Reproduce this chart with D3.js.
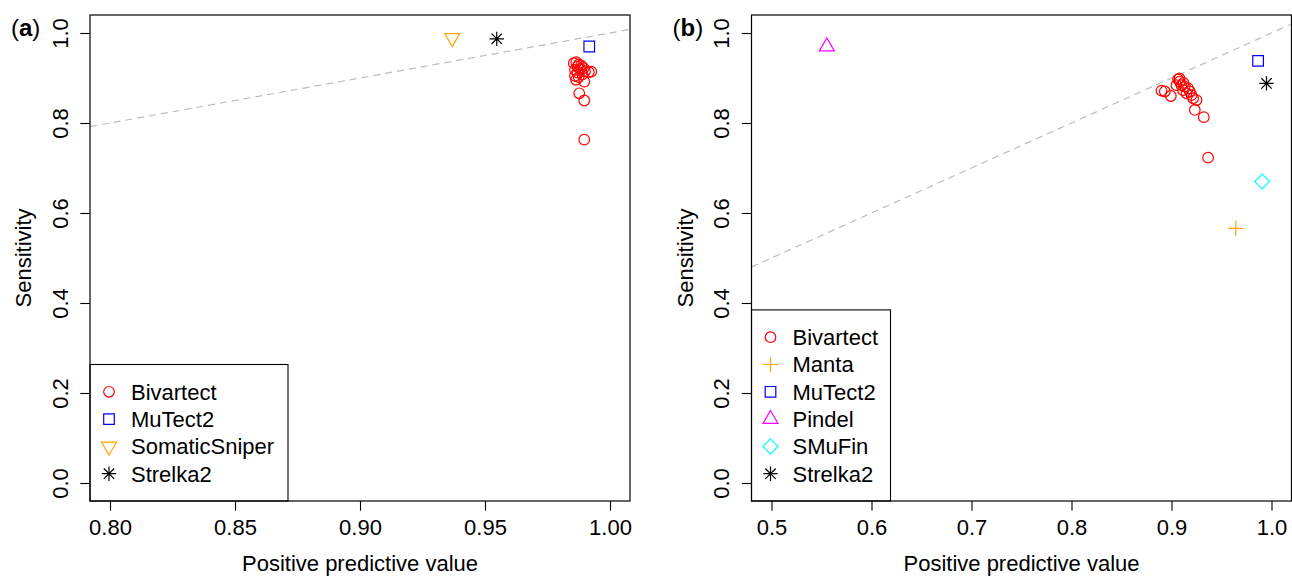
<!DOCTYPE html>
<html>
<head>
<meta charset="utf-8">
<script src="https://cdn.jsdelivr.net/npm/d3@7"></script>
<style>
  body { margin: 0; background: #fff; }
  text { font-family: "Liberation Sans", Arial, Helvetica, sans-serif; fill: #000; }
</style>
</head>
<body>
<script>
/////////////
/// DATA  ///
/////////////

// panel (a) - SNV callers
var aBivPPV  = [0.9855, 0.9865, 0.9875, 0.9870, 0.9885, 0.9895, 0.9880, 0.9860, 0.9900, 0.9915,
                0.9925, 0.9870, 0.9890, 0.9860, 0.9875, 0.9864, 0.9897, 0.9877, 0.9897, 0.9897];
var aBivSens = [0.933, 0.935, 0.930, 0.925, 0.928, 0.922, 0.920, 0.918, 0.915, 0.913,
                0.914, 0.912, 0.908, 0.905, 0.902, 0.896, 0.892, 0.866, 0.850, 0.763];
var aTools = ["MuTect2", "SomaticSniper", "Strelka2"];
var aPPV   = [0.9917, 0.9369, 0.9547];
var aSens  = [0.970, 0.989, 0.987];

// panel (b) - indel callers
var bBivPPV  = [0.890, 0.8933, 0.8993, 0.9066, 0.9083, 0.905, 0.910, 0.9133, 0.9116, 0.9166,
                0.9183, 0.915, 0.920, 0.9216, 0.925, 0.9233, 0.9323, 0.9366, 0.908, 0.912];
var bBivSens = [0.872, 0.870, 0.860, 0.897, 0.892, 0.884, 0.884, 0.881, 0.873, 0.877,
                0.870, 0.866, 0.862, 0.855, 0.851, 0.829, 0.813, 0.723, 0.899, 0.889];
var bTools = ["Manta", "MuTect2", "Pindel", "SMuFin", "Strelka2"];
var bPPV   = [0.9643, 0.9866, 0.5553, 0.9906, 0.995];
var bSens  = [0.566, 0.938, 0.970, 0.670, 0.888];

// ticks
var aXTicks = [0.80, 0.85, 0.90, 0.95, 1.00];
var bXTicks = [0.5, 0.6, 0.7, 0.8, 0.9, 1.0];
var yTicks  = [0.0, 0.2, 0.4, 0.6, 0.8, 1.0];

/////////////////////
/// SYMBOL TYPES  ///
/////////////////////
// R-like open plotting characters, size = half width in px
var symRing = { draw: function(c, s) { c.moveTo(s, 0); c.arc(0, 0, s, 0, 2 * Math.PI); } };
var symBox = { draw: function(c, s) { c.rect(-s, -s, 2 * s, 2 * s); } };
var symTriUp = { draw: function(c, s) {
  var h = s * Math.sqrt(3);
  c.moveTo(0, -2 * h / 3); c.lineTo(s, h / 3); c.lineTo(-s, h / 3); c.closePath(); } };
var symTriDown = { draw: function(c, s) {
  var h = s * Math.sqrt(3);
  c.moveTo(0, 2 * h / 3); c.lineTo(s, -h / 3); c.lineTo(-s, -h / 3); c.closePath(); } };
var symDiamond = { draw: function(c, s) {
  c.moveTo(0, -s); c.lineTo(s, 0); c.lineTo(0, s); c.lineTo(-s, 0); c.closePath(); } };
var symPlus = { draw: function(c, s) {
  c.moveTo(-s, 0); c.lineTo(s, 0); c.moveTo(0, -s); c.lineTo(0, s); } };
var symStar = { draw: function(c, s) {
  var d = s * 0.72;
  c.moveTo(-s, 0); c.lineTo(s, 0); c.moveTo(0, -s); c.lineTo(0, s);
  c.moveTo(-d, -d); c.lineTo(d, d); c.moveTo(-d, d); c.lineTo(d, -d); } };

var styles = {
  "Bivartect":     { type: symRing,    size: 5.3, color: "#ff0000" },
  "Manta":         { type: symPlus,    size: 7.5, color: "#ffa500" },
  "MuTect2":       { type: symBox,     size: 5.3, color: "#0000ff" },
  "Pindel":        { type: symTriUp,   size: 7.5, color: "#ff00ff" },
  "SMuFin":        { type: symDiamond, size: 7.5, color: "#00ffff" },
  "SomaticSniper": { type: symTriDown, size: 7.5, color: "#ffa500" },
  "Strelka2":      { type: symStar,    size: 7.2, color: "#000000" }
};

function symPath(name) {
  return d3.symbol().type(styles[name].type).size(styles[name].size)();
}

/////////////////
/// SETUP VIZ ///
/////////////////

var W = 1292, H = 577,
    plotTop = 15, plotBottom = 501,
    fontSize = 22;

var svg = d3.select("body").append("svg")
    .attr("width", W)
    .attr("height", H);

function drawPanel(opt) {
  var left = opt.left, right = opt.left + 540;

  // R style: range extended by 4% on each side
  var xs = d3.scaleLinear()
      .domain([opt.xmin - 0.04 * (opt.xmax - opt.xmin), opt.xmax + 0.04 * (opt.xmax - opt.xmin)])
      .range([left, right]);
  var ys = d3.scaleLinear().domain([-0.04, 1.04]).range([plotBottom, plotTop]);

  var g = svg.append("g");

  // diagonal reference line y = x
  var dom = xs.domain();
  g.append("line")
      .attr("x1", xs(dom[0])).attr("y1", ys(dom[0]))
      .attr("x2", xs(dom[1])).attr("y2", ys(dom[1]))
      .attr("stroke", "#bebebe")
      .attr("stroke-width", 1.2)
      .attr("stroke-dasharray", "7,5");

  // x axis
  var xa = g.append("g")
      .attr("transform", "translate(0," + plotBottom + ")")
      .call(d3.axisBottom(xs).tickValues(opt.xTicks).tickFormat(d3.format(opt.fmt))
            .tickSize(9.7).tickSizeOuter(0).tickPadding(9));
  xa.select(".domain").remove();
  xa.selectAll("text").attr("font-size", fontSize).attr("font-family", null);
  xa.selectAll("line").attr("stroke-width", 1.1);

  // y axis with rotated labels
  var ya = g.append("g")
      .attr("transform", "translate(" + left + ",0)")
      .call(d3.axisLeft(ys).tickValues(yTicks).tickFormat(d3.format(".1f"))
            .tickSize(9.7).tickSizeOuter(0));
  ya.select(".domain").remove();
  ya.selectAll("line").attr("stroke-width", 1.1);
  ya.selectAll("text")
      .attr("x", null).attr("dy", null)
      .attr("text-anchor", "middle")
      .attr("font-size", fontSize).attr("font-family", null)
      .attr("transform", "translate(-22.5,0) rotate(-90)");

  // axis titles
  g.append("text")
      .attr("x", (left + right) / 2)
      .attr("y", 571)
      .attr("text-anchor", "middle")
      .attr("font-size", fontSize)
      .text("Positive predictive value");

  g.append("text")
      .attr("transform", "translate(" + (left - 59) + "," + (plotTop + plotBottom) / 2 + ") rotate(-90)")
      .attr("text-anchor", "middle")
      .attr("font-size", fontSize)
      .text("Sensitivity");

  // panel tag
  var tag = g.append("text")
      .attr("x", left - 79)
      .attr("y", 36)
      .attr("font-size", 24);
  tag.append("tspan").text("(");
  tag.append("tspan").attr("font-weight", "bold").text(opt.tag);
  tag.append("tspan").text(")");

  // Bivartect points
  g.selectAll(".biv")
      .data(d3.zip(opt.bivPPV, opt.bivSens))
      .enter().append("path")
      .attr("class", "biv")
      .attr("transform", function(d) { return "translate(" + xs(d[0]) + "," + ys(d[1]) + ")"; })
      .attr("d", symPath("Bivartect"))
      .attr("fill", "none")
      .attr("stroke", styles["Bivartect"].color)
      .attr("stroke-width", 1.2);

  // other tools
  g.selectAll(".tool")
      .data(opt.tools.map(function(t, i) { return [t, opt.ppv[i], opt.sens[i]]; }))
      .enter().append("path")
      .attr("class", "tool")
      .attr("transform", function(d) { return "translate(" + xs(d[1]) + "," + ys(d[2]) + ")"; })
      .attr("d", function(d) { return symPath(d[0]); })
      .attr("fill", "none")
      .attr("stroke", function(d) { return styles[d[0]].color; })
      .attr("stroke-width", 1.2);

  // legend (bottom left, like R legend("bottomleft"))
  var names = ["Bivartect"].concat(opt.tools).sort(function(a, b) { return a.localeCompare(b); });
  var rowH = 27.3;
  var lgTop = plotBottom - (names.length + 1) * rowH;
  g.append("rect")
      .attr("x", left).attr("y", lgTop)
      .attr("width", opt.legendW).attr("height", plotBottom - lgTop)
      .attr("fill", "#fff")
      .attr("stroke", "#000")
      .attr("stroke-width", 1.1);

  var rows = g.selectAll(".lg")
      .data(names)
      .enter().append("g")
      .attr("class", "lg")
      .attr("transform", function(d, i) { return "translate(" + left + "," + (lgTop + rowH * (i + 1)) + ")"; });
  rows.append("path")
      .attr("transform", "translate(19,0)")
      .attr("d", function(d) { return symPath(d); })
      .attr("fill", "none")
      .attr("stroke", function(d) { return styles[d].color; })
      .attr("stroke-width", 1.2);
  rows.append("text")
      .attr("x", 41)
      .attr("dy", "0.36em")
      .attr("font-size", fontSize)
      .text(function(d) { return d; });

  // plot frame
  g.append("rect")
      .attr("x", left).attr("y", plotTop)
      .attr("width", right - left).attr("height", plotBottom - plotTop)
      .attr("fill", "none")
      .attr("stroke", "#000")
      .attr("stroke-width", 1.2);
}

drawPanel({ left: 90, xmin: 0.8, xmax: 1.0, xTicks: aXTicks, fmt: ".2f", tag: "a",
            bivPPV: aBivPPV, bivSens: aBivSens, tools: aTools, ppv: aPPV, sens: aSens, legendW: 198 });
drawPanel({ left: 751.5, xmin: 0.5, xmax: 1.0, xTicks: bXTicks, fmt: ".1f", tag: "b",
            bivPPV: bBivPPV, bivSens: bBivSens, tools: bTools, ppv: bPPV, sens: bSens, legendW: 139 });
</script>
</body>
</html>
